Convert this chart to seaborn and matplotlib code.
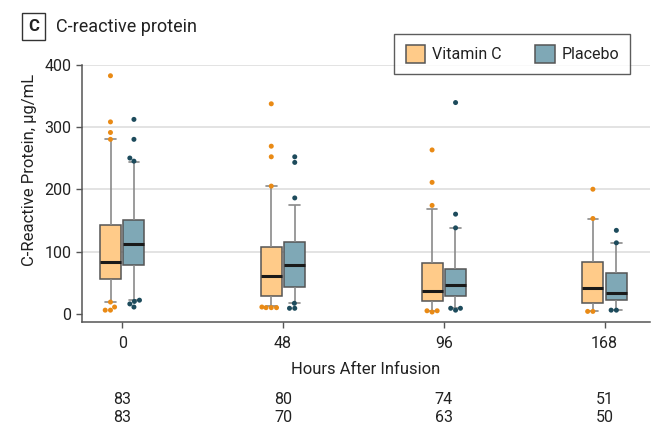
import numpy as np
import pandas as pd
import matplotlib.pyplot as plt
import seaborn as sns

# Data
hours = ["0", "48", "96", "168"]
groups = ["Vitamin C", "Placebo"]

# five-number summaries: low whisker, Q1, median, Q3, high whisker
vitc_low = [19, 12, 5, 4]
vitc_q1 = [56, 29, 21, 17]
vitc_med = [84, 60, 36, 41]
vitc_q3 = [143, 107, 81, 84]
vitc_high = [280, 205, 168, 153]

plac_low = [22, 17, 9, 6]
plac_q1 = [79, 43, 28, 22]
plac_med = [112, 79, 46, 34]
plac_q3 = [150, 116, 72, 65]
plac_high = [243, 174, 138, 114]

# individual points drawn outside / at the whisker ends
vitc_out = [[382, 308, 291, 280, 19, 11, 6, 6],
            [337, 269, 252, 205, 10, 10, 10, 11],
            [263, 211, 174, 5, 3, 5],
            [200, 153, 4, 4]]
plac_out = [[312, 280, 250, 245, 22, 20, 16, 11],
            [252, 243, 186, 17, 9, 9],
            [339, 160, 138, 9, 6, 9],
            [134, 114, 6, 6]]

# patients per time point
n_vitc = [83, 80, 74, 51]
n_plac = [83, 70, 63, 50]

box_colors = {"Vitamin C": "#FFCB89", "Placebo": "#7FA8B6"}
pt_colors = {"Vitamin C": "#E98A15", "Placebo": "#1D4B5C"}


def build_frames():
    rows = []
    summaries = {"Vitamin C": (vitc_low, vitc_q1, vitc_med, vitc_q3, vitc_high),
                 "Placebo": (plac_low, plac_q1, plac_med, plac_q3, plac_high)}
    for g, stats in summaries.items():
        for i, h in enumerate(hours):
            for s in stats:
                rows.append({"hour": h, "group": g, "crp": s[i]})
    box_df = pd.DataFrame(rows)

    rows = []
    shift = {"Vitamin C": -0.073, "Placebo": 0.073}
    for g, outs in (("Vitamin C", vitc_out), ("Placebo", plac_out)):
        for i, vals in enumerate(outs):
            for v in vals:
                rows.append({"pos": i + shift[g], "group": g, "crp": v})
    out_df = pd.DataFrame(rows)
    return box_df, out_df


box_df, out_df = build_frames()

sns.set_theme(style="white")
plt.rcParams['font.family'] = ['Roboto', 'DejaVu Sans']
plt.rcParams['text.color'] = '#222222'
plt.rcParams['axes.labelcolor'] = '#222222'
plt.rcParams['xtick.color'] = '#222222'
plt.rcParams['ytick.color'] = '#222222'

fig = plt.figure(figsize=(6.71, 4.42), dpi=100)
ax = fig.add_axes([0.1222, 0.2715, 0.846, 0.5825])

sns.boxplot(data=box_df, x="hour", y="crp", hue="group", order=hours, hue_order=groups,
            palette=box_colors, saturation=1, width=0.29, gap=0.1, whis=(0, 100),
            showfliers=False, linecolor="#555555", linewidth=1.1,
            medianprops=dict(color="#1a1a1a", linewidth=2.2),
            whiskerprops=dict(color="#8a8a8a", linewidth=1.2),
            capprops=dict(color="#8a8a8a", linewidth=1.2),
            ax=ax)

sns.swarmplot(data=out_df, x="pos", y="crp", hue="group", hue_order=groups,
              palette=pt_colors, native_scale=True, size=3.6, ax=ax, legend=False)

# axes styling
ax.set_xticks(range(len(hours)))
ax.set_xticklabels(hours, fontsize=11.5)
ax.set_xlim(-0.25, 3.28)
ax.set_ylim(-13, 400)
ax.set_yticks([0, 100, 200, 300, 400])
ax.tick_params(axis='y', labelsize=11.5, length=4, width=1, color='#555555', left=True)
ax.tick_params(axis='x', length=4, width=1, color='#555555', bottom=True, pad=6)
ax.yaxis.grid(True, color='#e3e3e3', linewidth=1.4)
ax.yaxis.get_gridlines()[0].set_visible(False)
ax.set_axisbelow(True)
sns.despine(ax=ax)
for side in ("left", "bottom"):
    ax.spines[side].set_color('#555555')
    ax.spines[side].set_linewidth(1.1)
ax.set_xlabel("Hours After Infusion", fontsize=12, labelpad=8)
ax.set_ylabel("C-Reactive Protein, µg/mL", fontsize=12)
ax.yaxis.set_label_coords(-0.08, 0.589)

# legend
sns.move_legend(ax, "upper right", bbox_to_anchor=(0.939, 0.923), bbox_transform=fig.transFigure,
                ncol=2, title=None, frameon=True, fancybox=False, fontsize=11.5,
                handlelength=1.25, handleheight=1.3, handletextpad=0.4, columnspacing=2.1,
                borderpad=0.7, borderaxespad=0, edgecolor='#333333')
ax.get_legend().get_frame().set_linewidth(1.0)

# panel title
fig.text(0.050, 0.94, "C", fontsize=12, fontweight='bold', ha='center', va='center',
         bbox=dict(boxstyle="square,pad=0.38", fc="white", ec="#333333", lw=1))
fig.text(0.0835, 0.94, "C-reactive protein", fontsize=13, ha='left', va='center')

# number of patients rows
for i in range(len(hours)):
    ax.annotate(str(n_vitc[i]), xy=(i, 1 - 399 / 442), xycoords=("data", "figure fraction"),
                ha='center', va='center', fontsize=11.5)
    ax.annotate(str(n_plac[i]), xy=(i, 1 - 418 / 442), xycoords=("data", "figure fraction"),
                ha='center', va='center', fontsize=11.5)

fig.savefig("out.png", dpi=100)
